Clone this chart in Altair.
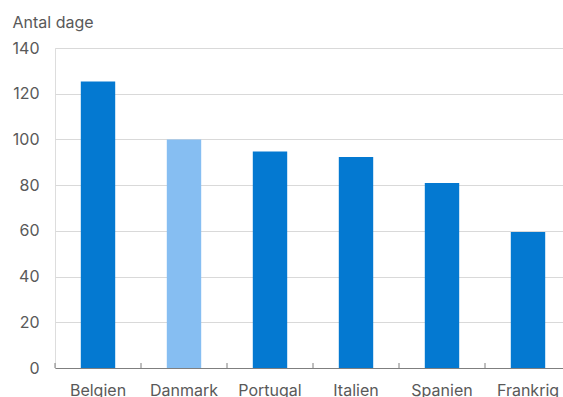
import altair as alt
import pandas as pd

countries = ["Belgien", "Danmark", "Portugal", "Italien", "Spanien", "Frankrig"]
values = [125.3, 100.0, 94.7, 92.3, 80.9, 59.5]
highlight = ["other", "dk", "other", "other", "other", "other"]
y_ticks = [0, 20, 40, 60, 80, 100, 120, 140]

df = pd.DataFrame({"land": countries, "dage": values, "grp": highlight})

FONT = "Inter"
GRAY = "#595959"

xscale = alt.Scale(domain=countries, range=[0, 516], paddingInner=0, paddingOuter=0)

bars = alt.Chart(df).mark_bar(width=alt.RelativeBandSize(0.4)).encode(
    x=alt.X("land:N", sort=countries, scale=xscale,
            axis=alt.Axis(title=None, labelAngle=0, ticks=False, labelPadding=27,
                          labelBaseline="alphabetic", labelFontSize=16, labelColor=GRAY,
                          labelFont=FONT, domainColor="#7f7f7f", domainWidth=1,
                          grid=False)),
    y=alt.Y("dage:Q", scale=alt.Scale(domain=[0, 140], nice=False),
            axis=alt.Axis(values=y_ticks, title="Antal dage", titleAngle=0,
                          titleAlign="left", titleBaseline="alphabetic",
                          titleX=-43, titleY=-21, titleFontSize=16,
                          titleFontWeight="normal", titleColor=GRAY, titleFont=FONT,
                          labelFontSize=16, labelColor=GRAY, labelFont=FONT,
                          labelPadding=16, ticks=False, domain=False,
                          gridColor="#d9d9d9", gridWidth=1)),
    color=alt.Color("grp:N", scale=alt.Scale(domain=["other", "dk"],
                                             range=["#0479D1", "#86BEF2"]),
                    legend=None),
)

ticks = alt.Chart(df).mark_rule(color="#7f7f7f", strokeWidth=1).encode(
    x=alt.X("land:N", sort=countries, bandPosition=0, scale=xscale),
    y=alt.value(315),
    y2=alt.value(320),
)

chart = alt.layer(bars, ticks).properties(
    width=508, height=320,
    autosize=alt.AutoSizeParams(type="none"),
    padding={"left": 55, "top": 48, "right": 0, "bottom": 29},
).configure_view(stroke=None).configure(background="white")

chart.save("out.html", embed_options={"renderer": "svg", "actions": False})
